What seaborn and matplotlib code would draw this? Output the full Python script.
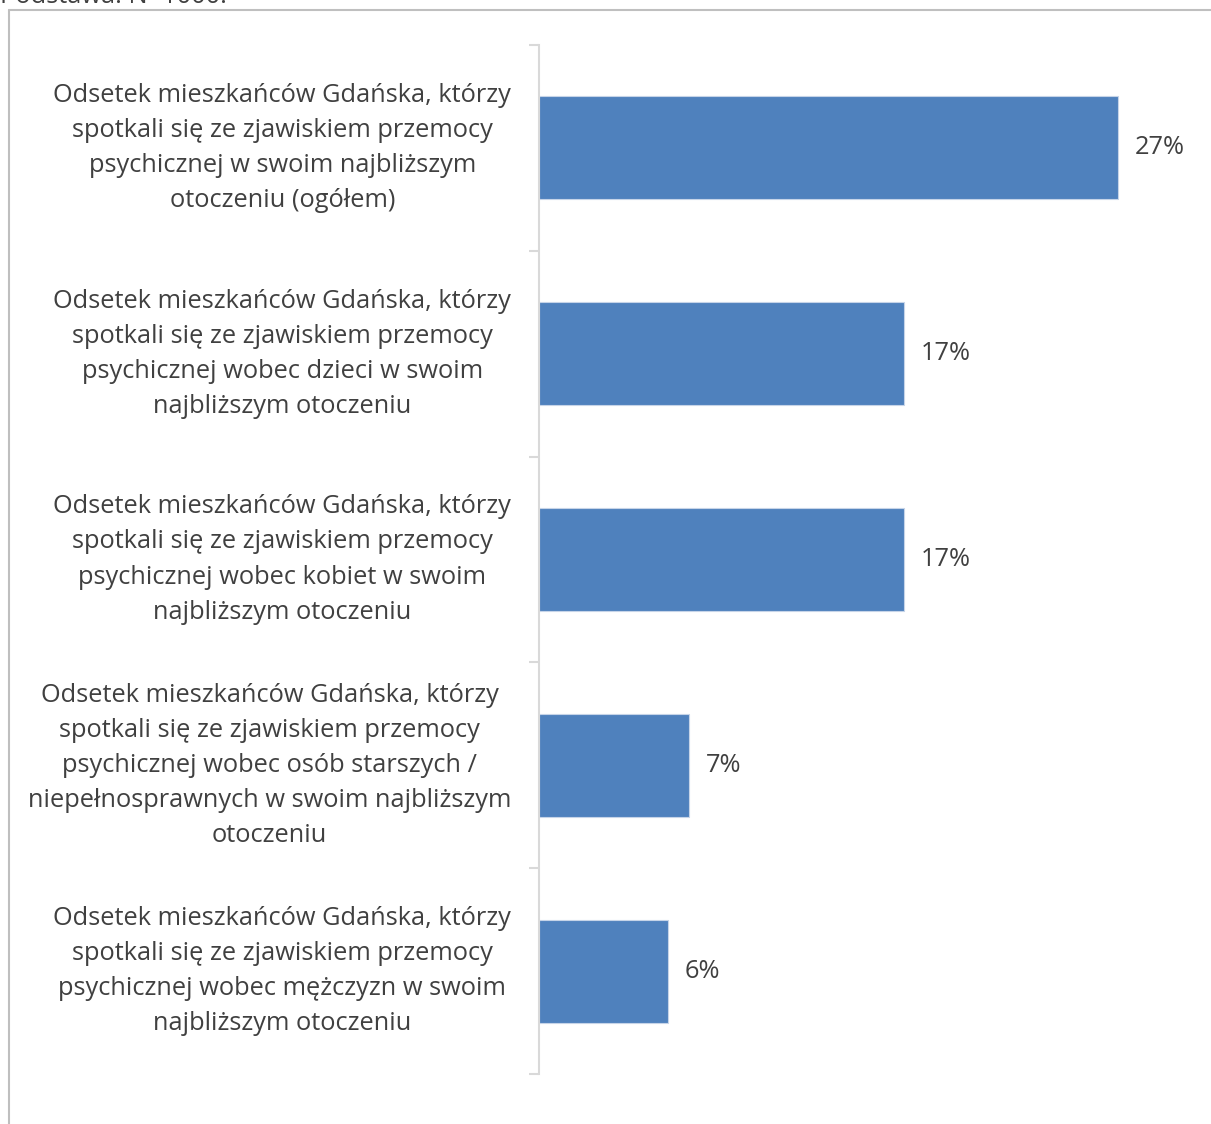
import matplotlib.pyplot as plt
import pandas as pd
import seaborn as sns
from matplotlib.lines import Line2D

labels = [
    "Odsetek mieszkańców Gdańska, którzy\nspotkali się ze zjawiskiem przemocy\npsychicznej w swoim najbliższym\notoczeniu (ogółem)",
    "Odsetek mieszkańców Gdańska, którzy\nspotkali się ze zjawiskiem przemocy\npsychicznej wobec dzieci w swoim\nnajbliższym otoczeniu",
    "Odsetek mieszkańców Gdańska, którzy\nspotkali się ze zjawiskiem przemocy\npsychicznej wobec kobiet w swoim\nnajbliższym otoczeniu",
    "Odsetek mieszkańców Gdańska, którzy\nspotkali się ze zjawiskiem przemocy\npsychicznej wobec osób starszych /\nniepełnosprawnych w swoim najbliższym\notoczeniu",
    "Odsetek mieszkańców Gdańska, którzy\nspotkali się ze zjawiskiem przemocy\npsychicznej wobec mężczyzn w swoim\nnajbliższym otoczeniu",
]
values = [27, 17, 17, 7, 6]
base_note = "Podstawa: N=1000."

sns.set_theme(style="white")
plt.rcParams["font.family"] = ["Open Sans", "DejaVu Sans"]

W, H = 1211, 1124
FS = 18.3
fig = plt.figure(figsize=(W / 100, H / 100), dpi=100)
ax = fig.add_axes([539 / W, 50 / H, 643.5 / W, 1029 / H])

df = pd.DataFrame({"label": labels, "value": values})
sns.barplot(data=df, y="label", x="value", orient="h", color="#4f81bd",
            saturation=1, width=0.5, edgecolor="#c6d4e8", linewidth=0.8, ax=ax)

ax.set_xlim(0, 30)
ax.set_ylim(4.5, -0.5)
ax.set_xlabel("")
ax.set_ylabel("")
ax.xaxis.set_visible(False)
for side in ["top", "right", "bottom"]:
    ax.spines[side].set_visible(False)
ax.spines["left"].set_color("#d9d9d9")
ax.spines["left"].set_linewidth(1.5)

ax.set_yticks([i - 0.5 for i in range(len(labels) + 1)], minor=True)
ax.tick_params(axis="y", which="minor", length=7, width=1.5, color="#d9d9d9", left=True)
ax.tick_params(axis="y", which="major", length=0, pad=20, labelsize=FS, labelcolor="#404040")
for t in ax.get_yticklabels():
    t.set_multialignment("center")
    t.set_linespacing(1.53)
    t.set_verticalalignment("center")

ax.bar_label(ax.containers[0], labels=[f"{v}%" for v in values], padding=12,
             fontsize=FS, color="#404040")

# frame around the chart area
fig.add_artist(Line2D([8.5 / W, 8.5 / W], [0, 1 - 10 / H], color="#bfbfbf", lw=1.5))
fig.add_artist(Line2D([8.5 / W, 1], [1 - 10 / H, 1 - 10 / H], color="#bfbfbf", lw=1.5))
fig.text(0, 1 - 3 / H, base_note, fontsize=FS, color="#404040", va="baseline", ha="left")

fig.savefig("out.png", dpi=100)
